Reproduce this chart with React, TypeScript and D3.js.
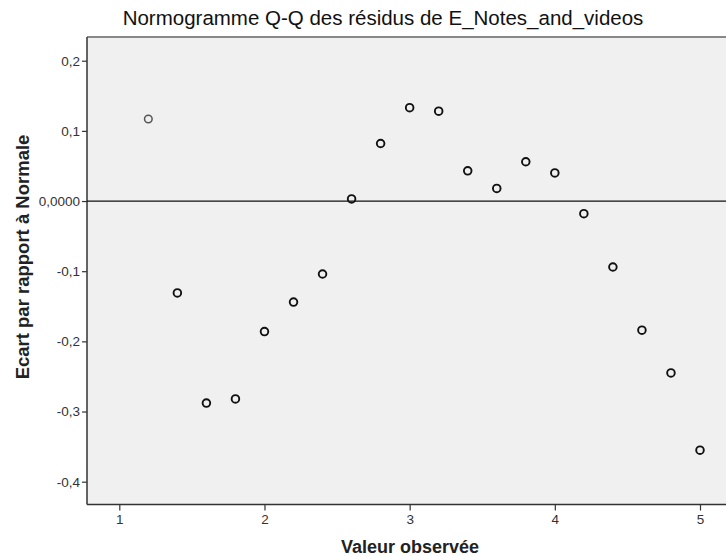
import React, { useEffect, useRef } from 'react';
import * as d3 from 'd3';

// observed values and their deviation from the normal
const observed = [1.2, 1.4, 1.6, 1.8, 2.0, 2.2, 2.4, 2.6, 2.8, 3.0, 3.2, 3.4, 3.6, 3.8, 4.0, 4.2, 4.4, 4.6, 4.8, 5.0];
const deviation = [0.117, -0.131, -0.288, -0.282, -0.186, -0.144, -0.104, 0.003, 0.082, 0.133, 0.128, 0.043, 0.018, 0.056, 0.040, -0.018, -0.094, -0.184, -0.245, -0.355];

const xTicks = [1, 2, 3, 4, 5];
const yTicks = [0.2, 0.1, 0, -0.1, -0.2, -0.3, -0.4];

const W = 726;
const H = 556;
const FONT = 'Liberation Sans, Arial, sans-serif';

export default function App() {
  const ref = useRef<SVGSVGElement>(null);

  useEffect(() => {
    const svg = d3.select(ref.current);
    svg.selectAll('*').remove();

    const left = 87, top = 37, bottom = 504.5, right = 740;
    const x = d3.scaleLinear().domain([1, 5]).range([119.3, 700]);
    const y = d3.scaleLinear().domain([0.2, -0.4]).range([60.7, 481.7]);

    // plot background
    svg.append('rect')
      .attr('x', left).attr('y', top)
      .attr('width', right - left).attr('height', bottom - top)
      .attr('fill', '#f0f0f0');

    // top border
    svg.append('line')
      .attr('x1', left).attr('x2', W).attr('y1', top).attr('y2', top)
      .attr('stroke', '#888').attr('stroke-width', 2);

    // y axis
    const yAxis = svg.append('g')
      .attr('transform', `translate(${left},0)`)
      .call(
        d3.axisLeft(y)
          .tickValues(yTicks)
          .tickSize(5)
          .tickPadding(2)
          .tickFormat((d) => (+d === 0 ? '0,0000' : d3.format('.1f')(+d).replace('.', ',').replace('−', '-')))
      );
    yAxis.select('.domain').remove();
    yAxis.selectAll('line').attr('stroke', '#333').attr('stroke-width', 1.2);
    yAxis.selectAll('text')
      .attr('font-family', FONT)
      .attr('font-size', 13.5)
      .attr('fill', '#333');

    // x axis
    const xAxis = svg.append('g')
      .attr('transform', `translate(0,${bottom})`)
      .call(d3.axisBottom(x).tickValues(xTicks).tickSize(6).tickPadding(4).tickFormat(d3.format('d')));
    xAxis.select('.domain').remove();
    xAxis.selectAll('line').attr('stroke', '#333').attr('stroke-width', 1.2);
    xAxis.selectAll('text')
      .attr('font-family', FONT)
      .attr('font-size', 13.5)
      .attr('fill', '#333');

    // frame lines
    svg.append('line')
      .attr('x1', left).attr('x2', left).attr('y1', top).attr('y2', bottom)
      .attr('stroke', '#333').attr('stroke-width', 1.5);
    svg.append('line')
      .attr('x1', left).attr('x2', W).attr('y1', bottom).attr('y2', bottom)
      .attr('stroke', '#333').attr('stroke-width', 1.5);

    // reference line at zero
    svg.append('line')
      .attr('x1', left).attr('x2', W).attr('y1', y(0)).attr('y2', y(0))
      .attr('stroke', '#111').attr('stroke-width', 1.3);

    // points
    svg.append('g')
      .selectAll('circle')
      .data(observed.map((o, i) => [o, deviation[i]]))
      .enter()
      .append('circle')
      .attr('cx', (d) => x(d[0]))
      .attr('cy', (d) => y(d[1]))
      .attr('r', 3.8)
      .attr('fill', 'none')
      .attr('stroke', (d, i) => (i === 0 ? '#555' : '#111'))
      .attr('stroke-width', (d, i) => (i === 0 ? 1.5 : 1.9));

    // title
    svg.append('text')
      .attr('x', 383).attr('y', 25)
      .attr('text-anchor', 'middle')
      .attr('font-family', FONT)
      .attr('font-size', 20.5)
      .attr('fill', '#111')
      .text('Normogramme Q-Q des résidus de E_Notes_and_videos');

    // axis titles
    svg.append('text')
      .attr('x', 410).attr('y', 553)
      .attr('text-anchor', 'middle')
      .attr('font-family', FONT)
      .attr('font-weight', 'bold')
      .attr('font-size', 18)
      .attr('fill', '#222')
      .text('Valeur observée');

    svg.append('text')
      .attr('transform', 'translate(29,257) rotate(-90)')
      .attr('text-anchor', 'middle')
      .attr('font-family', FONT)
      .attr('font-weight', 'bold')
      .attr('font-size', 18.5)
      .attr('fill', '#222')
      .text('Ecart par rapport à Normale');
  }, []);

  return (
    <svg
      ref={ref}
      width={W}
      height={H}
      style={{ position: 'absolute', left: 0, top: 0, background: '#fff' }}
    />
  );
}
